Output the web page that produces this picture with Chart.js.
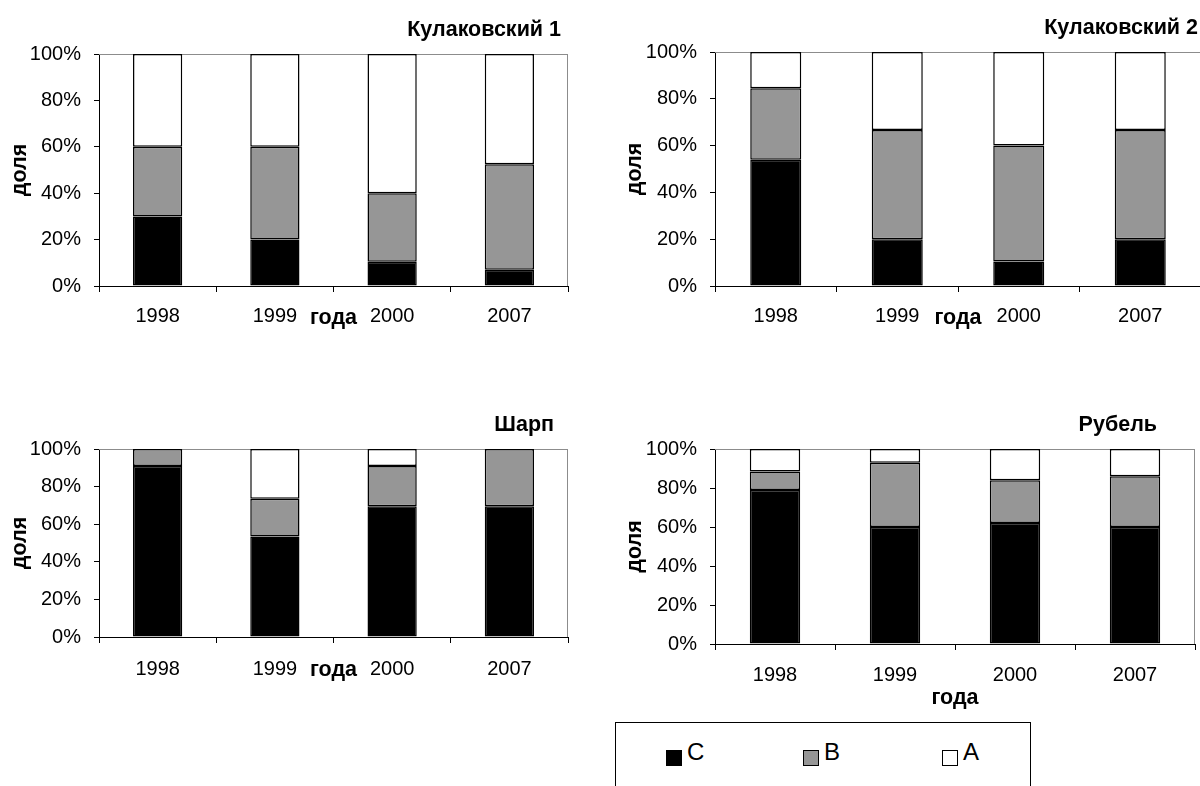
<!DOCTYPE html>
<html><head><meta charset="utf-8">
<script src="https://cdn.jsdelivr.net/npm/chart.js@4.4.1/dist/chart.umd.min.js"></script>
<style>
html,body{margin:0;padding:0;background:#fff;}
body{width:1200px;height:786px;overflow:hidden;position:relative;font-family:"Liberation Sans",Arial,sans-serif;}
canvas{position:absolute;}
#legend{position:absolute;left:615px;top:722px;width:416px;height:100px;border:1px solid #000;box-sizing:border-box;}
.sq{position:absolute;width:16px;height:16px;border:1.5px solid #000;box-sizing:border-box;top:27px;}
.lt{position:absolute;font-size:24px;line-height:24px;top:17px;color:#000;}
</style></head>
<body>
<canvas id="c1" width="600" height="345" style="left:0;top:0"></canvas>
<canvas id="c2" width="601" height="345" style="left:600px;top:0"></canvas>
<canvas id="c3" width="600" height="300" style="left:0;top:390px"></canvas>
<canvas id="c4" width="600" height="330" style="left:600px;top:390px"></canvas>
<div id="legend"></div>
<script>
// ---- data ----
const years = ['1998', '1999', '2000', '2007'];
const seriesNames = ['C', 'B', 'A'];
const seriesColors = ['#000000', '#969696', '#ffffff'];
const titles = ['Кулаковский 1', 'Кулаковский 2', 'Шарп', 'Рубель'];
const xTitle = 'года';
const yTitle = 'доля';

const kul1C = [30, 20, 10.5, 7];
const kul1B = [30, 40, 29.5, 45.5];
const kul1A = [40, 40, 60, 47.5];

const kul2C = [54, 20, 10.5, 20];
const kul2B = [30.5, 46.7, 49.5, 46.7];
const kul2A = [15.5, 33.3, 40, 33.3];

const sharpC = [91, 53.5, 69.5, 69.5];
const sharpB = [9, 20, 21.5, 30.5];
const sharpA = [0, 26.5, 9, 0];

const rubelC = [79, 60, 62, 60];
const rubelB = [9.5, 33, 22, 26];
const rubelA = [11.5, 7, 16, 14];

// ---- drawing ----
const FAM = '"Liberation Sans", Arial, sans-serif';

const deco = {
  id: 'deco',
  beforeDatasetsDraw(chart, args, o) {
    const a = chart.chartArea, ctx = chart.ctx;
    ctx.save();
    ctx.strokeStyle = '#8c8c8c';
    ctx.lineWidth = 1;
    ctx.beginPath();
    ctx.moveTo(a.left, a.top + 0.5); ctx.lineTo(a.right, a.top + 0.5);
    ctx.moveTo(a.right - 0.5, a.top); ctx.lineTo(a.right - 0.5, a.bottom);
    ctx.stroke();
    ctx.restore();
  },
  afterDraw(chart, args, o) {
    const a = chart.chartArea, ctx = chart.ctx;
    ctx.save();
    ctx.fillStyle = '#000';
    ctx.font = 'bold 21.5px ' + FAM;
    ctx.textBaseline = 'alphabetic';
    ctx.textAlign = 'right';
    ctx.fillText(o.title, o.titleX, o.titleY);
    ctx.textAlign = 'center';
    ctx.fillText(o.xTitle, (a.left + a.right) / 2, o.xTitleY);
    ctx.translate(o.yTitleX, (a.top + a.bottom) / 2);
    ctx.rotate(-Math.PI / 2);
    ctx.fillText(o.yTitle, 0, 0);
    ctx.restore();
  }
};

function make(id, series, title, L) {
  return new Chart(document.getElementById(id), {
    type: 'bar',
    data: {
      labels: years,
      datasets: series.map((d, i) => ({
        label: seriesNames[i], data: d, backgroundColor: seriesColors[i],
        borderColor: '#000', borderWidth: 1.5, borderSkipped: false,
        categoryPercentage: 1, barPercentage: 0.42
      }))
    },
    options: {
      responsive: false, animation: false,
      layout: { padding: { top: L.top, right: L.right, left: 0, bottom: 0 } },
      plugins: {
        legend: { display: false }, tooltip: { enabled: false },
        deco: { title: title, titleX: L.titleX, titleY: L.titleY, xTitle: xTitle, xTitleY: L.xTitleY, yTitle: yTitle, yTitleX: L.yTitleX }
      },
      scales: {
        x: {
          stacked: true,
          grid: { drawOnChartArea: false, drawTicks: true, tickLength: 6, color: '#000', offset: true },
          border: { display: true, color: '#000', width: 1 },
          ticks: { color: '#000', font: { size: 20, family: FAM }, padding: L.xpad, maxRotation: 0, autoSkip: false },
          afterFit(s) { s.height = L.xh; }
        },
        y: {
          stacked: true, min: 0, max: 100,
          grid: { drawOnChartArea: false, drawTicks: true, tickLength: 5, color: '#000' },
          border: { display: true, color: '#000', width: 1 },
          ticks: { stepSize: 20, callback: v => v + '%', color: '#000', font: { size: 20, family: FAM }, padding: 13 },
          afterFit(s) { s.width = L.yw; }
        }
      }
    },
    plugins: [deco]
  });
}

make('c1', [kul1C, kul1B, kul1A], titles[0], { top: 54, right: 32, xh: 59, yw: 99, xpad: 12, titleX: 561, titleY: 36, xTitleY: 324, yTitleX: 26 });
make('c2', [kul2C, kul2B, kul2A], titles[1], { top: 52, right: 0, xh: 59, yw: 115, xpad: 12, titleX: 598, titleY: 34, xTitleY: 324, yTitleX: 41 });
make('c3', [sharpC, sharpB, sharpA], titles[2], { top: 59, right: 32, xh: 53, yw: 99, xpad: 14, titleX: 554, titleY: 41, xTitleY: 286, yTitleX: 26 });
make('c4', [rubelC, rubelB, rubelA], titles[3], { top: 59, right: 5, xh: 76, yw: 115, xpad: 13, titleX: 557, titleY: 41, xTitleY: 314, yTitleX: 41 });

// legend built from the series
const leg = document.getElementById('legend');
const legOffsets = [50, 187, 326];
seriesNames.forEach((n, i) => {
  const sq = document.createElement('div');
  sq.className = 'sq';
  sq.style.left = legOffsets[i] + 'px';
  sq.style.background = seriesColors[i];
  leg.appendChild(sq);
  const t = document.createElement('span');
  t.className = 'lt';
  t.style.left = (legOffsets[i] + 21) + 'px';
  t.textContent = n;
  leg.appendChild(t);
});
</script>
</body></html>
